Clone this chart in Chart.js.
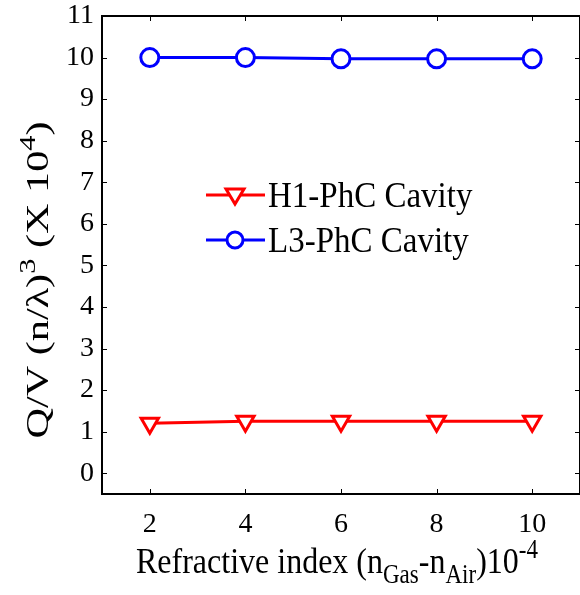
<!DOCTYPE html>
<html>
<head>
<meta charset="utf-8">
<script src="https://cdn.jsdelivr.net/npm/chart.js@4"></script>
<style>
  html, body { margin: 0; padding: 0; background: #fff; overflow: hidden; }
  canvas { display: block; }
</style>
</head>
<body>
<canvas id="qv_chart" width="580" height="595"></canvas>
<script>
// values
const indexDiff = [2, 4, 6, 8, 10];
const h1Values = [1.2, 1.25, 1.25, 1.25, 1.25];
const l3Values = [10.0, 10.0, 9.97, 9.97, 9.97];
const xTicks = [2, 4, 6, 8, 10];
const yTicks = [0, 1, 2, 3, 4, 5, 6, 7, 8, 9, 10, 11];
const seriesNames = ['H1-PhC Cavity', 'L3-PhC Cavity'];

const FONT = '"Liberation Serif", "Times New Roman", serif';

function drawRich(ctx, parts, size) {
  let total = 0;
  parts.forEach(p => {
    ctx.font = (p.small ? size * 0.72 : size) + 'px ' + FONT;
    p.w = ctx.measureText(p.t).width;
    total += p.w;
  });
  let x = -total / 2;
  parts.forEach(p => {
    ctx.font = (p.small ? size * 0.72 : size) + 'px ' + FONT;
    ctx.fillText(p.t, x, p.dy || 0);
    x += p.w;
  });
}

const matlabFrame = {
  id: 'matlabFrame',
  afterDraw(chart) {
    const ctx = chart.ctx;
    const a = chart.chartArea;
    const xs = chart.scales.x, ys = chart.scales.y;
    ctx.save();
    ctx.strokeStyle = '#000';
    ctx.lineWidth = 1;
    // inward ticks
    ctx.beginPath();
    xTicks.forEach(v => {
      const px = Math.round(xs.getPixelForValue(v)) + 0.5;
      ctx.moveTo(px, a.bottom); ctx.lineTo(px, a.bottom - 5);
      ctx.moveTo(px, a.top); ctx.lineTo(px, a.top + 5);
    });
    yTicks.forEach(v => {
      const py = Math.round(ys.getPixelForValue(v)) + 0.5;
      ctx.moveTo(a.left, py); ctx.lineTo(a.left + 5, py);
      ctx.moveTo(a.right, py); ctx.lineTo(a.right - 5, py);
    });
    ctx.stroke();
    // box
    ctx.lineWidth = 2;
    ctx.strokeRect(a.left, a.top, a.right - a.left, a.bottom - a.top);

    // legend inside the axes
    ctx.textBaseline = 'middle';
    chart.data.datasets.forEach((ds, i) => {
      const y = 195 + i * 45;
      ctx.strokeStyle = ds.borderColor;
      ctx.lineWidth = 3;
      ctx.beginPath();
      ctx.moveTo(206, y); ctx.lineTo(265, y);
      ctx.stroke();
      ctx.fillStyle = '#fff';
      ctx.beginPath();
      if (ds.pointStyle === 'triangle') {
        ctx.moveTo(226, y - 6); ctx.lineTo(244, y - 6); ctx.lineTo(235, y + 9); ctx.closePath();
      } else {
        ctx.arc(235, y, 8, 0, Math.PI * 2);
      }
      ctx.fill(); ctx.stroke();
      ctx.fillStyle = '#000';
      ctx.font = '33px ' + FONT;
      ctx.textAlign = 'left';
      ctx.save();
      ctx.translate(268, y + 2);
      ctx.scale(1, 1.1);
      ctx.fillText(ds.label, 0, 0);
      ctx.restore();
    });

    // axis titles
    ctx.fillStyle = '#000';
    ctx.textAlign = 'left';
    ctx.textBaseline = 'alphabetic';
    ctx.save();
    ctx.translate(337, 573);
    ctx.scale(1, 1.15);
    drawRich(ctx, [
      {t: 'Refractive index (n'}, {t: 'Gas', small: true, dy: 9},
      {t: '-n'}, {t: 'Air', small: true, dy: 9},
      {t: ')10'}, {t: '-4', small: true, dy: -13}
    ], 32);
    ctx.restore();
    ctx.save();
    ctx.translate(48, 280);
    ctx.rotate(-Math.PI / 2);
    ctx.scale(1.32, 1);
    drawRich(ctx, [
      {t: 'Q/V (n/\u03bb)'}, {t: '3', small: true, dy: -13},
      {t: ' (X 10'}, {t: '4', small: true, dy: -13}, {t: ')'}
    ], 32);
    ctx.restore();
    ctx.restore();
  }
};

new Chart(document.getElementById('qv_chart'), {
  type: 'line',
  data: {
    labels: indexDiff,
    datasets: [
      {
        label: seriesNames[0],
        data: indexDiff.map((x, i) => ({x: x, y: h1Values[i]})),
        borderColor: '#ff0000',
        backgroundColor: '#ffffff',
        borderWidth: 3,
        pointStyle: 'triangle',
        rotation: 180,
        pointRadius: 10,
        pointBorderWidth: 3,
      },
      {
        label: seriesNames[1],
        data: indexDiff.map((x, i) => ({x: x, y: l3Values[i]})),
        borderColor: '#0000ff',
        backgroundColor: '#ffffff',
        borderWidth: 3,
        pointStyle: 'circle',
        pointRadius: 9,
        pointBorderWidth: 3,
      },
    ],
  },
  options: {
    responsive: false,
    animation: false,
    layout: { autoPadding: false, padding: { top: 16, right: -2, left: 0, bottom: 0 } },
    plugins: {
      legend: { display: false },
      tooltip: { enabled: false },
    },
    scales: {
      x: {
        type: 'linear',
        min: 1,
        max: 11,
        afterBuildTicks: s => { s.ticks = xTicks.map(v => ({value: v})); },
        afterFit: s => { s.height = 101; s.paddingLeft = 0; s.paddingRight = 0; },
        grid: { display: false, drawTicks: false },
        border: { display: false },
        ticks: {
          color: '#000',
          padding: 14,
          maxRotation: 0,
          font: { family: FONT, size: 28 },
        },
      },
      y: {
        min: -0.5,
        max: 11,
        afterBuildTicks: s => { s.ticks = yTicks.map(v => ({value: v})); },
        afterFit: s => { s.width = 102; s.paddingTop = 0; s.paddingBottom = 0; },
        grid: { display: false, drawTicks: false },
        border: { display: false },
        ticks: {
          color: '#000',
          padding: 8,
          font: { family: FONT, size: 28 },
        },
      },
    },
  },
  plugins: [matlabFrame],
});
</script>
</body>
</html>
